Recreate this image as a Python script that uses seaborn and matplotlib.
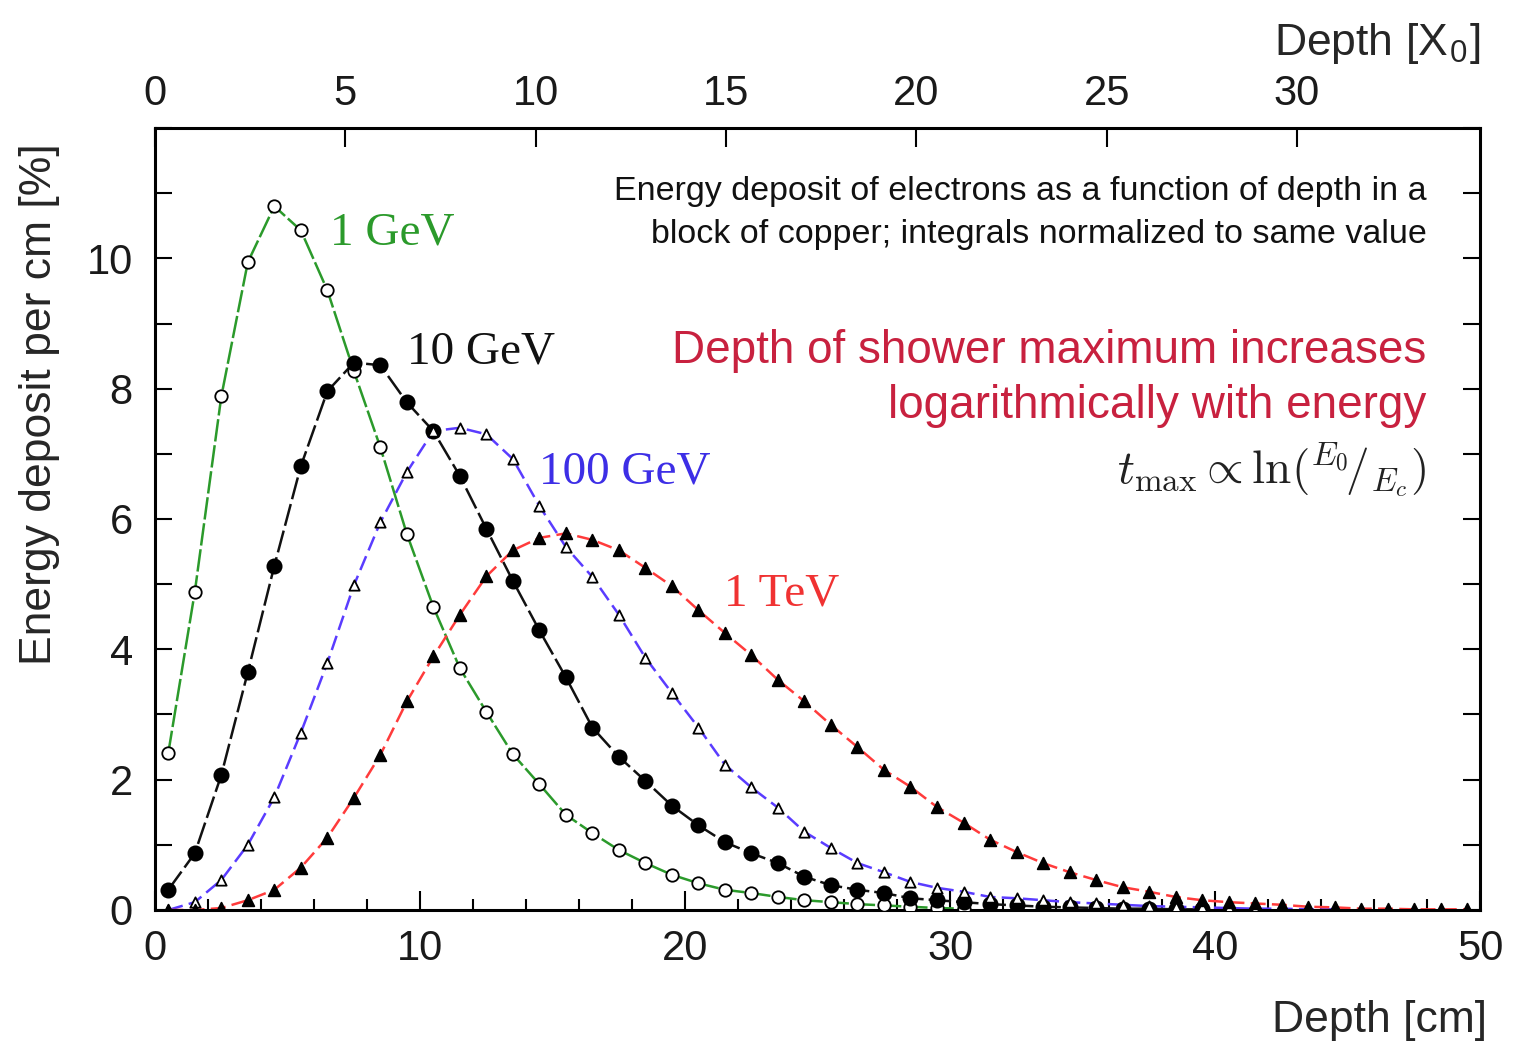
import matplotlib
matplotlib.use('Agg')
import matplotlib.pyplot as plt
from matplotlib.ticker import MultipleLocator
import pandas as pd
import seaborn as sns

sns.set_style('ticks')
plt.rcParams['font.family'] = ['Liberation Sans', 'DejaVu Sans']
plt.rcParams['mathtext.fontset'] = 'cm'
plt.rcParams['text.color'] = '#1a1a1a'
plt.rcParams['xtick.color'] = '#1a1a1a'
plt.rcParams['ytick.color'] = '#1a1a1a'

X0_CU = 1.436  # radiation length of copper [cm]

# bin centres [cm]
depth = [0.5, 1.5, 2.5, 3.5, 4.5, 5.5, 6.5, 7.5, 8.5, 9.5,
         10.5, 11.5, 12.5, 13.5, 14.5, 15.5, 16.5, 17.5, 18.5, 19.5,
         20.5, 21.5, 22.5, 23.5, 24.5, 25.5, 26.5, 27.5, 28.5, 29.5,
         30.5, 31.5, 32.5, 33.5, 34.5, 35.5, 36.5, 37.5, 38.5, 39.5,
         40.5, 41.5, 42.5, 43.5, 44.5, 45.5, 46.5, 47.5, 48.5, 49.5]

e_1gev = [2.41, 4.88, 7.88, 9.94, 10.80, 10.43, 9.51, 8.27, 7.10, 5.77,
          4.65, 3.71, 3.04, 2.39, 1.93, 1.46, 1.18, 0.92, 0.72, 0.54,
          0.41, 0.31, 0.26, 0.20, 0.15, 0.12, 0.09, 0.07, 0.05, 0.03, 0.02]
e_10gev = [0.31, 0.87, 2.07, 3.65, 5.28, 6.81, 7.96, 8.40, 8.36, 7.79,
           7.35, 6.66, 5.85, 5.05, 4.29, 3.57, 2.80, 2.35, 1.98, 1.60,
           1.30, 1.04, 0.87, 0.72, 0.51, 0.38, 0.31, 0.26, 0.18, 0.15,
           0.12, 0.09, 0.07, 0.05, 0.04, 0.03, 0.02, 0.02, 0.01, 0.01]
e_100gev = [0.00, 0.12, 0.46, 1.00, 1.73, 2.72, 3.79, 4.98, 5.95, 6.72,
            7.35, 7.40, 7.30, 6.92, 6.20, 5.57, 5.11, 4.53, 3.87, 3.33,
            2.80, 2.23, 1.88, 1.57, 1.20, 0.95, 0.72, 0.58, 0.43, 0.34,
            0.28, 0.20, 0.18, 0.15, 0.12, 0.10, 0.08, 0.06, 0.05, 0.04,
            0.03, 0.02, 0.02, 0.01, 0.01]
e_1tev = [0.00, 0.00, 0.03, 0.15, 0.31, 0.65, 1.11, 1.72, 2.38, 3.20,
          3.89, 4.53, 5.12, 5.52, 5.71, 5.78, 5.68, 5.52, 5.25, 4.97,
          4.60, 4.25, 3.91, 3.53, 3.20, 2.84, 2.50, 2.15, 1.89, 1.58,
          1.34, 1.08, 0.89, 0.72, 0.58, 0.46, 0.35, 0.28, 0.20, 0.15,
          0.12, 0.10, 0.08, 0.05, 0.04, 0.02, 0.02, 0.01, 0.01, 0.01]

energies = ['1 GeV', '10 GeV', '100 GeV', '1 TeV']
values = [e_1gev, e_10gev, e_100gev, e_1tev]
line_colors = ['#2b9a2b', '#111111', '#5a3cff', '#ff3b3b']
label_colors = ['#2b9a2b', '#111111', '#3d2ee6', '#f03232']
dash_styles = [(0, (9, 1.5)), (0, (9, 2)), (0, (6, 2.5)), (0, (6, 2.5))]
markers = ['o', 'o', '^', '^']
marker_face = ['white', 'black', 'white', 'black']
marker_size = [80, 105, 55, 70]
label_pos = [(6.6, 10.22), (9.5, 8.38), (14.5, 6.54), (21.45, 4.67)]

fig = plt.figure(figsize=(15.14, 10.45), dpi=100)
ax = fig.add_axes([0.1024, 0.1292, 0.8754, 0.7483])

for i, vals in enumerate(values):
    df = pd.DataFrame({'depth': depth[:len(vals)], 'edep': vals})
    sns.lineplot(data=df, x='depth', y='edep', ax=ax, color=line_colors[i],
                 lw=1.8, linestyle=dash_styles[i])

for i, vals in enumerate(values):
    df = pd.DataFrame({'depth': depth[:len(vals)], 'edep': vals})
    sns.scatterplot(data=df, x='depth', y='edep', ax=ax, marker=markers[i],
                    s=marker_size[i], facecolor=marker_face[i], edgecolor='black',
                    linewidth=1.3, zorder=4)

for i, name in enumerate(energies):
    ax.text(label_pos[i][0], label_pos[i][1], name, color=label_colors[i],
            fontsize=34, family=['Liberation Serif', 'DejaVu Serif'], va='baseline')

ax.text(47.97, 10.89, 'Energy deposit of electrons as a function of depth in a',
        fontsize=24.5, ha='right', va='baseline', color='#111111')
ax.text(47.97, 10.23, 'block of copper; integrals normalized to same value',
        fontsize=24.5, ha='right', va='baseline', color='#111111')
ax.text(47.97, 8.40, 'Depth of shower maximum increases',
        fontsize=33, ha='right', va='baseline', color='#c8213f')
ax.text(47.97, 7.55, 'logarithmically with energy',
        fontsize=33, ha='right', va='baseline', color='#c8213f')
ax.text(47.97, 6.55, r'$t_{\rm max} \propto \ln({}^{E_0}\!/{}_{E_c})$',
        fontsize=34, ha='right', va='baseline', color='#222222')

ax.set_xlim(0, 50)
ax.set_ylim(0, 12)
ax.xaxis.set_major_locator(MultipleLocator(10))
ax.xaxis.set_minor_locator(MultipleLocator(2))
ax.set_yticks([0, 2, 4, 6, 8, 10, 12], ['0', '2', '4', '6', '8', '10', ''])
ax.yaxis.set_minor_locator(MultipleLocator(1))
ax.tick_params(which='both', direction='in', top=False, right=True,
               labelsize=30, width=1.5, color='black')
ax.tick_params(axis='x', which='major', length=14, pad=14)
ax.tick_params(axis='x', which='minor', length=8)
ax.tick_params(axis='y', which='both', length=12, pad=16)
for sp in ax.spines.values():
    sp.set_linewidth(2.2)
    sp.set_color('black')

ax.set_xlabel('Depth [cm]', fontsize=32, loc='right')
ax.xaxis.set_label_coords(1.005, -0.115)
ax.set_ylabel('Energy deposit per cm [%]', fontsize=32)
ax.yaxis.set_label_coords(-0.072, 0.647)

top = ax.secondary_xaxis('top', functions=(lambda x: x / X0_CU, lambda t: t * X0_CU))
top.set_xticks([0, 5, 10, 15, 20, 25, 30])
top.tick_params(direction='in', length=14, width=1.5, labelsize=30, pad=10,
                color='black')
top.set_xlabel(r'Depth [X$_{\mathregular{0}}$]', fontsize=32, loc='right',
               labelpad=14)

fig.savefig('out.png', dpi=100)
